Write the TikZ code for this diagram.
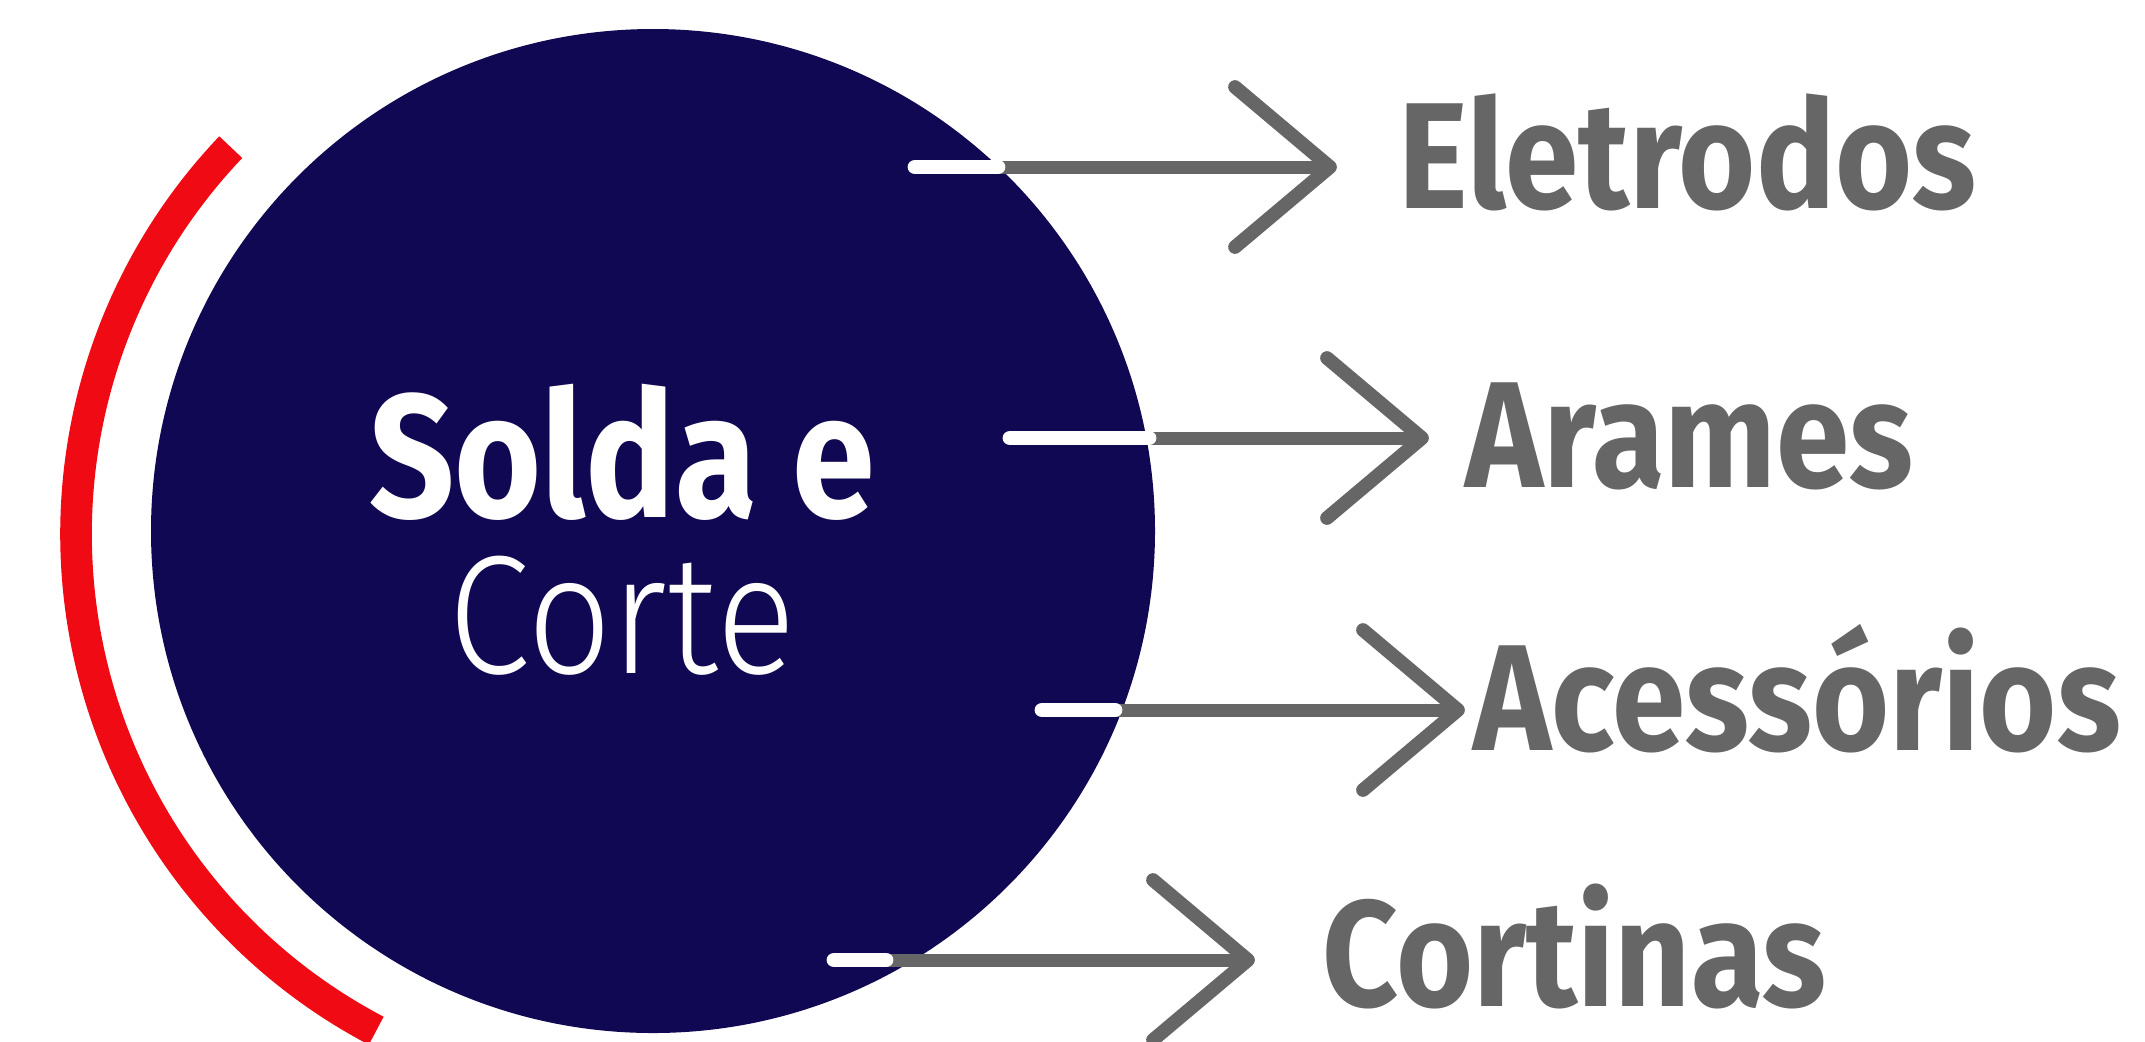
\documentclass[tikz,border=0pt]{standalone}
\usepackage{fontspec}
\setmainfont{Fira Sans}
\newfontfamily\labelfont[FakeStretch=0.875]{Fira Sans}
\newfontfamily\titlefont[FakeStretch=0.85]{Fira Sans}
\newfontfamily\lightfont[FakeStretch=0.88]{Fira Sans Light}
\usetikzlibrary{positioning}
\definecolor{navy}{RGB}{16,8,82}
\definecolor{weldred}{RGB}{240,10,20}
\definecolor{txtgrey}{RGB}{102,102,102}

\begin{document}
\begin{tikzpicture}[hub/.style={circle,fill=navy,minimum size=10.04cm,inner sep=0pt},
    branch/.style={anchor=base west,inner sep=0pt,text=txtgrey,
      font=\labelfont\bfseries\fontsize{43}{43}\selectfont},
    feed/.style={draw=txtgrey,line width=3.7pt},
    chevron/.style={draw=txtgrey,line width=3.9pt,line cap=round,line join=round},
    core/.style={draw=white,line width=4.2pt,line cap=round}]
    \useasboundingbox (0,0) rectangle (21.45,-10.41);
    \node[hub] (hub) at (6.53,-5.31) {};
    \draw[weldred,line width=9pt] (6.37,-5.34) ++(136.4:5.61)
    arc[start angle=136.4,end angle=242.3,radius=5.61];

    \node[text=white,anchor=base,inner sep=0pt,
    font=\titlefont\bfseries\fontsize{50}{50}\selectfont] (solda) at (6.22,-5.17) {Solda e};
    \node[text=white,anchor=base,inner sep=0pt,
    font=\lightfont\fontsize{48}{48}\selectfont] (corte) at (6.22,-6.73) {Corte};

    \coordinate (s1) at (9.15,-1.67); \coordinate (b1) at (9.98,-1.67);
    \coordinate (t1) at (13.30,-1.67);
    \coordinate (s2) at (10.10,-4.38); \coordinate (b2) at (11.49,-4.38);
    \coordinate (t2) at (14.22,-4.38);
    \coordinate (s3) at (10.42,-7.10); \coordinate (b3) at (11.15,-7.10);
    \coordinate (t3) at (14.58,-7.10);
    \coordinate (s4) at (8.34,-9.60); \coordinate (b4) at (8.86,-9.60);
    \coordinate (t4) at (12.48,-9.60);

    \node[branch] (eletrodos) at (13.98,-2.08) {Eletrodos};
    \node[branch] (arames) at (14.65,-4.87) {Arames};
    \node[branch] (acessorios) at (14.73,-7.50) {Acessórios};
    \node[branch] (cortinas) at (13.22,-10.06) {Cortinas};

    \foreach \n in {1,...,4} {
      \draw[feed] (b\n) -- (t\n);
      \draw[chevron] (t\n) ++(-0.95,0.8) -- (t\n) -- ++(-0.95,-0.8);
      \draw[core] (s\n) -- (b\n);
    }
  \end{tikzpicture}
\end{document}
